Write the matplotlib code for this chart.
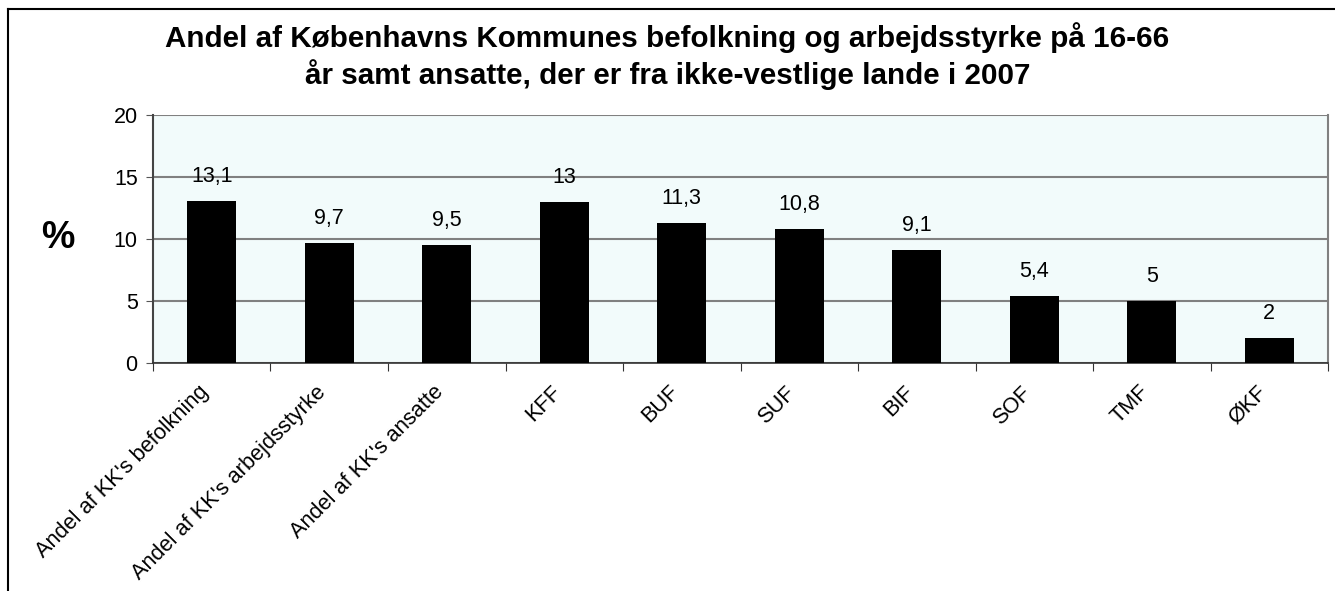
import matplotlib
matplotlib.use("Agg")
import matplotlib.pyplot as plt
import matplotlib.transforms as mtransforms
import numpy as np

plt.rcParams['font.family'] = ['Liberation Sans', 'DejaVu Sans']

categories = ["Andel af KK's befolkning", "Andel af KK's arbejdsstyrke", "Andel af KK's ansatte",
              "KFF", "BUF", "SUF", "BIF", "SOF", "TMF", "ØKF"]
values = [13.1, 9.7, 9.5, 13, 11.3, 10.8, 9.1, 5.4, 5, 2]
value_labels = ["13,1", "9,7", "9,5", "13", "11,3", "10,8", "9,1", "5,4", "5", "2"]
y_ticks = [0, 5, 10, 15, 20]

title = ("Andel af Københavns Kommunes befolkning og arbejdsstyrke på 16-66\n"
         "år samt ansatte, der er fra ikke-vestlige lande i 2007")

fig = plt.figure(figsize=(13.35, 5.91), dpi=100)
ax = fig.add_axes([0.1146, 0.3858, 0.8802, 0.4196])
ax.set_facecolor('#F2FBFB')

x = np.arange(len(categories))
ax.bar(x, values, width=0.42, color='black', zorder=3)

for xi, v, lab in zip(x, values, value_labels):
    ax.annotate(lab, (xi, v), xytext=(0, 10), textcoords='offset points',
                ha='center', va='bottom', fontsize=15.5)

ax.set_xlim(-0.5, len(categories) - 0.5)
ax.set_ylim(0, 20)
ax.set_yticks(y_ticks)
ax.tick_params(axis='y', labelsize=15.5, length=5, color='#555555', pad=6)
ax.yaxis.grid(True, color='#808080', linewidth=1.5, zorder=1)

# ticks between categories, labels at centers
ax.set_xticks(np.arange(len(categories) + 1) - 0.5)
ax.set_xticklabels([])
ax.set_xticks(x, minor=True)
ax.set_xticklabels(categories, minor=True, rotation=45, ha='right',
                   rotation_mode='anchor', va='center', fontsize=15.7)
ax.tick_params(axis='x', which='major', length=6, color='#333333')
ax.tick_params(axis='x', which='minor', length=0, pad=0)
shift = mtransforms.ScaledTranslation(-6 / 100, -26 / 100, fig.dpi_scale_trans)
for lbl in ax.get_xticklabels(minor=True):
    lbl.set_transform(lbl.get_transform() + shift)

ax.spines['top'].set_visible(False)
ax.spines['left'].set_color('#444444')
ax.spines['left'].set_linewidth(1.5)
ax.spines['right'].set_color('#808080')
ax.spines['right'].set_linewidth(1.5)
ax.spines['bottom'].set_color('#333333')
ax.spines['bottom'].set_linewidth(1.2)

fig.text(0.043, 0.597, "%", fontsize=27, fontweight='bold', ha='center', va='center')
fig.text(0.5, 0.905, title, fontsize=21.3, fontweight='bold', ha='center', va='center',
         linespacing=1.25)

# outer chart border (right/bottom lie outside the picture)
fig.add_artist(plt.Line2D([0.006, 0.006], [0, 0.985], color='black', linewidth=1.5))
fig.add_artist(plt.Line2D([0.006, 1], [0.985, 0.985], color='black', linewidth=1.5))

fig.savefig("out.png", dpi=100)
